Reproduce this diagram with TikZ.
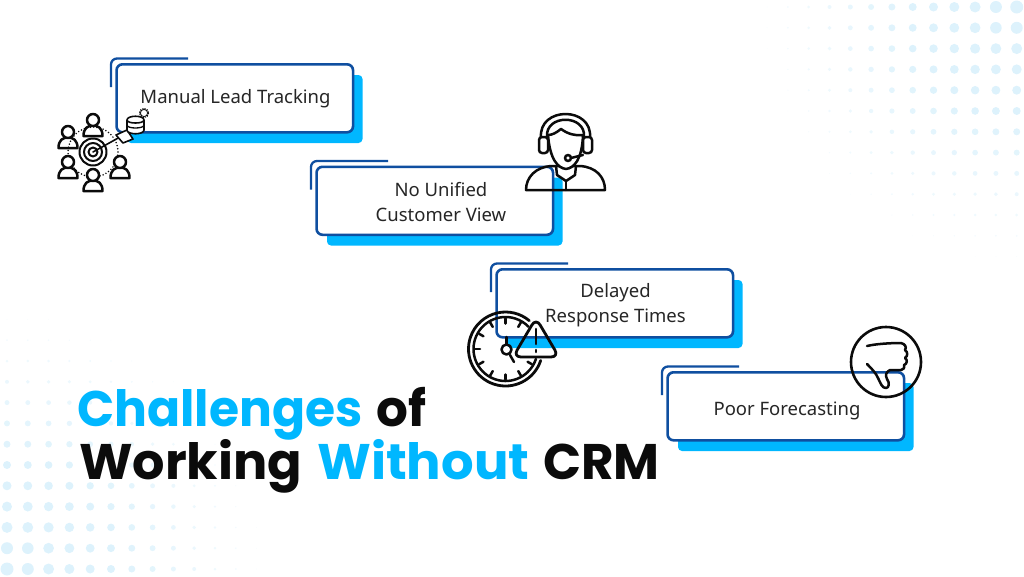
\documentclass[tikz,border=0pt]{standalone}
\usepackage{fontspec}
\setmainfont{Noto Sans}
\newfontfamily\titlefont{Poppins}
\definecolor{dotblue}{HTML}{DDF2FC}
\definecolor{skyblue}{HTML}{00B7FF}
\definecolor{cardblue}{HTML}{0F4FA0}
\definecolor{inkblack}{HTML}{0B0B0B}
\tikzset{
    cardbox/.style={draw=cardblue, line width=2.6pt, fill=white, rounded corners=6pt, minimum width=236.5pt, minimum height=68pt, inner sep=0pt},
    cardtext/.style={align=center, text=black!85, inner sep=0pt, font=\fontsize{18.5}{25}\selectfont},
    titleword/.style={anchor=base west, inner sep=0pt, text=inkblack, font=\titlefont\bfseries\fontsize{50}{50}\selectfont},
    iconline/.style={draw=inkblack, line width=2.5pt, line join=round, line cap=round},
    person/.pic={
        \draw[iconline] (-9.5,11) .. controls (-9.5,3) and (-5,0.5) .. (0,0.5) .. controls (5,0.5) and (9.5,3) .. (9.5,11) -- cycle;
        \draw[iconline, fill=white] (0,-5) circle (6);
    }
}
\begin{document}
\begin{tikzpicture}[x=1pt, y=-1pt]
    \useasboundingbox (0,0) rectangle (1024,576);

    % dot fields in two corners
    \foreach \i in {0,...,12} \foreach \j in {0,...,12} {
        \pgfmathsetmacro\rad{6.5-0.5*sqrt(\i*\i+\j*\j)}
        \pgfmathsetmacro\mixv{min(100,15+\rad*22)}
        \ifdim\rad pt>0.4pt
            \fill[dotblue!\mixv!white] (1016.7-20.8*\i, 7+20.8*\j) circle (\rad);
            \fill[dotblue!\mixv!white] (7+20.8*\i, 569-20.8*\j) circle (\rad);
        \fi
    }

    % the four cards
    \foreach \n/\dx/\dy in {one/0/0, two/200/102.5, three/380/205, four/551/308} {
        \begin{scope}[shift={(\dx,\dy)}]
            \fill[skyblue, rounded corners=4pt] (127,75) rectangle (362.5,143);
            \draw[cardblue, line width=2.3pt, rounded corners=6pt] (111,87) -- (111,58.5) -- (188,58.5);
            \node[cardbox] (card\n) at (234.8,98.3) {};
        \end{scope}
    }
    \node[cardtext] (textone) at (235.5,99) {Manual Lead Tracking};
    \node[cardtext] (texttwo) at (441,202.5) {No Unified\\Customer View};
    \node[cardtext] (textthree) at (615.5,305) {Delayed\\Response Times};
    \node[cardtext] (textfour) at (787,410.5) {Poor Forecasting};

    % title
    \node[titleword, xscale=.976] (wordchallenges) at (77,426) {\textcolor{skyblue}{Challenges}};
    \node[titleword] (wordof) at (376,426) {of};
    \node[titleword, xscale=1.018] (wordworking) at (79,479) {Working};
    \node[titleword, xscale=1.024] (wordwithout) at (317,479) {\textcolor{skyblue}{Without}};
    \node[titleword] (wordcrm) at (543,479) {CRM};

    % target icon
    \draw[iconline, line width=1.7pt, dash pattern=on 0pt off 3.2pt] (93,152) circle (25);
    \foreach \r in {4.5,9,13.5} \draw[iconline, line width=2pt] (93,152) circle (\r);
    \pic at (93,125) {person};
    \pic at (68,137) {person};
    \pic at (68,167) {person};
    \pic at (120,167) {person};
    \pic at (93,180) {person};
    \draw[iconline, line width=1.6pt] (93,152) -- (120,137);
    \draw[iconline, line width=1.6pt, fill=white] (116,135) -- (127,130) -- (133,139) -- (123,143) -- cycle;
    \draw[iconline, line width=1.6pt, fill=white] (127,120) -- (127,130) .. controls (127,135) and (144,135) .. (144,130) -- (144,120) .. controls (144,115) and (127,115) .. (127,120) .. controls (127,124) and (144,124) .. (144,120);
    \draw[iconline, line width=1.3pt] (127,125) .. controls (127,129) and (144,129) .. (144,125);
    \draw[iconline, line width=1pt] (144,113) circle (1.8);
    \draw[iconline, line width=1pt, fill=white, dash pattern=on 1.4pt off 1pt, line cap=butt] (144,113) circle (4.6);
    \draw[iconline, line width=.8pt] (144,113) circle (3.6);

    % agent icon
    \draw[iconline] (526,190) .. controls (526,177) and (536,167) .. (551,166) -- (580,166) .. controls (596,167) and (605,177) .. (605,190) -- cycle;
    \draw[iconline, fill=white] (548,135) .. controls (550,160) and (558,168) .. (566,169) .. controls (574,168) and (582,160) .. (583,135) .. controls (575,136) and (568,134) .. (561,129) .. controls (556,133) and (552,135) .. (548,135) -- cycle;
    \draw[iconline] (556,166) -- (557,175) -- (566,181) -- (575,175) -- (576,166);
    \draw[iconline] (566,181) -- (566,190);
    \draw[iconline] (541,138) .. controls (538,106) and (593,106) .. (590,138);
    \draw[iconline] (547,137) .. controls (545,114) and (586,114) .. (584,137);
    \draw[iconline, rounded corners=3pt, fill=white] (539,137) rectangle (548,153);
    \draw[iconline, rounded corners=3pt, fill=white] (583,137) rectangle (592,153);
    \draw[iconline] (571,158) -- (583,155);
    \draw[iconline, fill=white] (568,158) circle (3);

    % clock icon, open where the triangle sits
    \draw[iconline, line width=2.8pt] (505.5,349) ++(18:37) arc (18:310:37);
    \draw[iconline] (505.5,349) ++(18:32) arc (18:316:32);
    \foreach \a in {30,60,...,300} \draw[iconline] (505.5,349) ++(\a:25.5) -- ++(\a:5);
    \draw[iconline] (506.5,337) -- (506.5,344);
    \draw[iconline] (510,355) -- (514,362);
    \draw[iconline] (506.5,349.5) circle (5);
    \draw[iconline, line width=2.8pt, rounded corners=8pt] (536,318) -- (559,357) -- (513,357) -- cycle;
    \draw[iconline, line width=2.6pt] (536,329) -- (536,344);
    \draw[iconline, line width=2.6pt] (536,350) -- (536,352);

    % thumbs down icon
    \draw[iconline, line width=2.6pt] (886,362) circle (35);
    \draw[iconline] (867,346) .. controls (875,344) and (890,343) .. (901,343) .. controls (905,344) and (907,347) .. (905,350) .. controls (908,352) and (908,356) .. (905,358) .. controls (908,360) and (907,364) .. (904,365) .. controls (905,368) and (903,370) .. (901,370) -- (890,370) .. controls (886,372) and (885,375) .. (887,379) .. controls (890,383) and (889,388) .. (886,388) .. controls (882,388) and (881,384) .. (878,378) .. controls (876,373) and (871,368) .. (867,364);
\end{tikzpicture}
\end{document}
